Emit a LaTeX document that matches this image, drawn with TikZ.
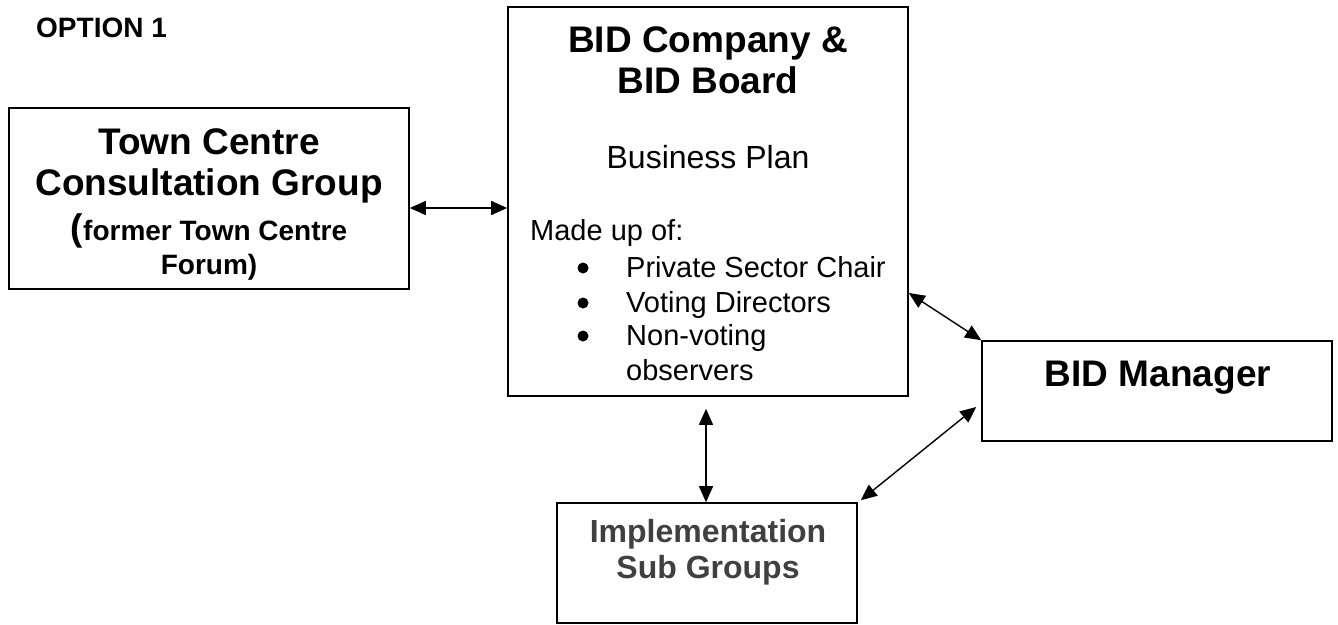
\documentclass[tikz,border=0pt]{standalone}
\usepackage{fontspec}
\setmainfont{Liberation Sans}
\usetikzlibrary{arrows.meta, positioning}

\begin{document}
\begin{tikzpicture}[x=1pt, y=-1pt,
  box/.style={draw, line width=1.6pt, inner sep=0pt},
  bigbold/.style={font=\fontsize{37}{41}\selectfont\bfseries, anchor=base, inner sep=0pt},
  midbold/.style={font=\fontsize{28}{32}\selectfont\bfseries, anchor=base, inner sep=0pt},
  plain/.style={font=\fontsize{29}{33}\selectfont, anchor=base west, inner sep=0pt},
  bulletdot/.style={circle, fill, inner sep=0pt, minimum size=11pt},
  link/.style={{Triangle[length=16pt,width=14pt]}-{Triangle[length=16pt,width=14pt]}, line width=1.4pt}]
  \useasboundingbox (0,0) rectangle (1338,624);

  \node[midbold, anchor=base west] (option) at (36,37) {OPTION 1};

  % Boxes:
  \node[box, minimum width=400pt, minimum height=181pt] (town) at (209,198.5) {};
  \node[box, minimum width=400pt, minimum height=389pt] (bid)  at (708,201.5) {};
  \node[box, minimum width=350pt, minimum height=100pt] (mgr)  at (1157,391) {};
  \node[box, minimum width=300pt, minimum height=120pt] (impl) at (707,563) {};

  % Town Centre text
  \node[bigbold] (town1) at (209,154) {Town Centre};
  \node[bigbold] (town2) at (209,195) {Consultation Group};
  \node[midbold] (town3) at (209,240) {{\fontsize{37}{41}\selectfont(}former Town Centre};
  \node[midbold] (town4) at (209,274) {Forum)};

  % BID Company text
  \node[bigbold] (bid1) at (708,52) {BID Company \&};
  \node[bigbold] (bid2) at (708,93) {BID Board};
  \node[font=\fontsize{32}{36}\selectfont, anchor=base, inner sep=0pt] (plan) at (708,168) {Business Plan};
  \node[plain] (made) at (530,240) {Made up of:};
  \foreach \i/\y/\txt in {1/277/Private Sector Chair, 2/312/Voting Directors, 3/345/Non-voting}{
    \node[bulletdot] (dot\i) at (583,\y-9) {};
    \node[plain] (item\i) at (626,\y) {\txt};
  }
  \node[plain] (item4) at (626,380) {observers};

  \node[bigbold] (mgrtext) at (1158,386) {BID Manager};

  \node[font=\fontsize{32}{36}\selectfont\bfseries, text=black!75, anchor=base, inner sep=0pt] (impl1) at (708,542) {Implementation};
  \node[font=\fontsize{32}{36}\selectfont\bfseries, text=black!75, anchor=base, inner sep=0pt] (impl2) at (708,578) {Sub Groups};

  % Arrows:
  \draw[link] ([yshift=-9.5pt]town.east) -- ([yshift=-9.5pt]town.east -| bid.west);
  \draw[link] ([xshift=-1pt,yshift=-12pt]bid.south -| impl.north) -- ([xshift=-1pt]impl.north);
  \draw[link] ([yshift=-91.5pt]bid.east) -- (mgr.north west);
  \draw[link] ([xshift=3pt,yshift=2pt]impl.north east) -- ([xshift=-5pt,yshift=-16pt]mgr.west);

\end{tikzpicture}
\end{document}
